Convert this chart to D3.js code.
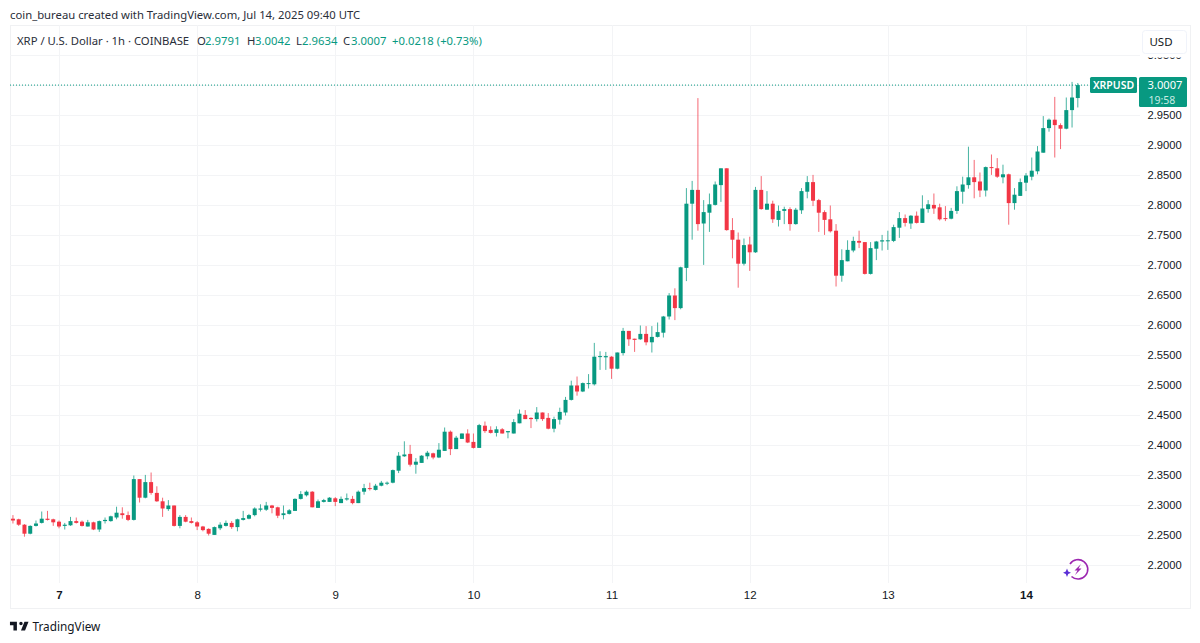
<!DOCTYPE html>
<html>
<head>
<meta charset="utf-8">
<script src="https://cdn.jsdelivr.net/npm/d3@7"></script>
<style>
  html, body { margin: 0; padding: 0; background: #fff; }
  svg { display: block; font-family: 'Noto Sans', Tahoma, sans-serif; }
  .grid line { stroke: #f3f4f6; stroke-width: 1; shape-rendering: crispEdges; }
  .price-axis text { font-size: 11.2px; fill: #131722; }
  .time-axis text { font-size: 11.5px; fill: #131722; }
  .legend text { font-size: 11.3px; }
</style>
</head>
<body>
<svg id="chart" width="1200" height="643"></svg>
<script>
// hourly XRP/USD candles, first one is Jul 6 2025 16:00 UTC
const startTime = Date.UTC(2025, 6, 6, 16);

const opens = [
  2.278,2.277,2.268,2.253,2.266,2.271,2.278,2.277,2.273,2.266,
  2.267,2.274,2.273,2.265,2.272,2.260,2.274,2.274,2.280,2.287,
  2.284,2.276,2.344,2.313,2.339,2.321,2.307,2.294,2.300,2.266,
  2.281,2.274,2.272,2.265,2.261,2.251,2.262,2.266,2.271,2.264,
  2.276,2.278,2.284,2.293,2.293,2.300,2.297,2.284,2.286,2.291,
  2.311,2.317,2.323,2.296,2.306,2.306,2.312,2.304,2.310,2.311,
  2.304,2.323,2.329,2.326,2.333,2.337,2.338,2.358,2.382,2.386,
  2.368,2.371,2.382,2.387,2.380,2.391,2.423,2.394,2.411,2.420,
  2.406,2.396,2.433,2.426,2.421,2.427,2.422,2.420,2.437,2.451,
  2.446,2.444,2.455,2.446,2.428,2.443,2.455,2.476,2.500,2.490,
  2.503,2.502,2.548,2.547,2.548,2.528,2.554,2.591,2.578,2.577,
  2.586,2.572,2.581,2.588,2.615,2.650,2.629,2.696,2.803,2.826,
  2.770,2.788,2.801,2.834,2.862,2.759,2.743,2.703,2.735,2.722,
  2.826,2.793,2.803,2.776,2.791,2.794,2.769,2.792,2.823,2.839,
  2.809,2.789,2.777,2.758,2.683,2.707,2.725,2.741,2.739,2.686,
  2.728,2.740,2.741,2.741,2.763,2.779,2.770,2.783,2.771,2.794,
  2.801,2.797,2.779,2.778,2.791,2.823,2.834,2.847,2.840,2.825,
  2.864,2.862,2.847,2.852,2.804,2.816,2.838,2.848,2.857,2.888,
  2.929,2.943,2.934,2.928,2.959,2.9791,
];

const highs = [
  2.284,2.278,2.269,2.267,2.275,2.290,2.291,2.278,2.275,2.271,
  2.281,2.280,2.275,2.276,2.273,2.275,2.280,2.283,2.298,2.297,
  2.290,2.350,2.344,2.351,2.355,2.332,2.313,2.309,2.300,2.284,
  2.284,2.280,2.274,2.266,2.262,2.265,2.272,2.275,2.274,2.278,
  2.291,2.286,2.297,2.302,2.306,2.301,2.298,2.300,2.294,2.312,
  2.324,2.325,2.324,2.310,2.311,2.314,2.314,2.315,2.320,2.316,
  2.325,2.336,2.338,2.336,2.341,2.340,2.360,2.389,2.407,2.401,
  2.379,2.384,2.391,2.388,2.404,2.430,2.425,2.416,2.420,2.427,
  2.420,2.436,2.440,2.432,2.432,2.429,2.424,2.444,2.460,2.459,
  2.447,2.464,2.455,2.454,2.448,2.463,2.481,2.508,2.515,2.505,
  2.519,2.571,2.557,2.556,2.549,2.555,2.596,2.591,2.578,2.600,
  2.599,2.599,2.605,2.616,2.654,2.662,2.698,2.829,2.841,2.979,
  2.809,2.820,2.840,2.862,2.862,2.779,2.755,2.745,2.748,2.831,
  2.849,2.824,2.808,2.800,2.798,2.797,2.796,2.829,2.849,2.851,
  2.811,2.792,2.800,2.769,2.727,2.742,2.748,2.758,2.739,2.739,
  2.741,2.751,2.758,2.768,2.789,2.785,2.784,2.790,2.817,2.809,
  2.820,2.803,2.799,2.796,2.832,2.848,2.898,2.876,2.855,2.865,
  2.885,2.879,2.868,2.853,2.829,2.845,2.854,2.880,2.899,2.949,
  2.945,2.981,2.937,2.980,3.006,3.0042,
];

const lows = [
  2.270,2.266,2.248,2.252,2.265,2.270,2.275,2.266,2.262,2.260,
  2.266,2.270,2.265,2.265,2.259,2.256,2.270,2.273,2.277,2.278,
  2.274,2.275,2.305,2.312,2.318,2.306,2.281,2.291,2.265,2.262,
  2.272,2.270,2.259,2.257,2.250,2.251,2.259,2.265,2.261,2.257,
  2.275,2.277,2.282,2.290,2.291,2.287,2.279,2.277,2.285,2.291,
  2.310,2.315,2.297,2.296,2.305,2.306,2.299,2.304,2.308,2.302,
  2.304,2.318,2.325,2.325,2.332,2.334,2.337,2.354,2.381,2.365,
  2.353,2.371,2.377,2.377,2.379,2.391,2.384,2.394,2.411,2.404,
  2.395,2.396,2.421,2.420,2.415,2.420,2.412,2.420,2.437,2.444,
  2.429,2.440,2.441,2.427,2.422,2.435,2.450,2.475,2.483,2.489,
  2.495,2.500,2.526,2.526,2.511,2.527,2.550,2.566,2.556,2.576,
  2.567,2.555,2.580,2.580,2.610,2.609,2.627,2.674,2.743,2.758,
  2.701,2.756,2.800,2.806,2.758,2.712,2.663,2.700,2.691,2.721,
  2.793,2.793,2.771,2.765,2.769,2.758,2.768,2.786,2.812,2.799,
  2.756,2.751,2.755,2.665,2.673,2.707,2.722,2.729,2.685,2.685,
  2.709,2.725,2.726,2.739,2.746,2.765,2.761,2.770,2.771,2.788,
  2.786,2.775,2.774,2.777,2.786,2.803,2.828,2.812,2.814,2.815,
  2.851,2.846,2.837,2.768,2.793,2.816,2.824,2.842,2.852,2.888,
  2.923,2.880,2.894,2.927,2.930,2.9634,
];

const closes = [
  2.275,2.268,2.253,2.266,2.270,2.278,2.276,2.272,2.265,2.268,
  2.274,2.271,2.266,2.272,2.260,2.274,2.276,2.282,2.288,2.284,
  2.276,2.344,2.313,2.339,2.321,2.307,2.295,2.300,2.266,2.281,
  2.273,2.271,2.265,2.259,2.253,2.264,2.268,2.271,2.264,2.277,
  2.279,2.284,2.295,2.295,2.300,2.296,2.283,2.287,2.292,2.311,
  2.319,2.323,2.297,2.307,2.309,2.313,2.306,2.311,2.312,2.304,
  2.323,2.329,2.328,2.333,2.338,2.338,2.359,2.383,2.385,2.368,
  2.373,2.383,2.388,2.380,2.393,2.423,2.394,2.413,2.420,2.405,
  2.396,2.434,2.424,2.421,2.427,2.420,2.424,2.439,2.453,2.444,
  2.444,2.455,2.444,2.428,2.444,2.456,2.476,2.500,2.490,2.504,
  2.504,2.548,2.549,2.549,2.528,2.555,2.591,2.577,2.576,2.586,
  2.572,2.581,2.589,2.615,2.650,2.629,2.697,2.803,2.826,2.769,
  2.789,2.802,2.835,2.862,2.759,2.743,2.703,2.734,2.722,2.826,
  2.794,2.803,2.777,2.791,2.794,2.769,2.793,2.824,2.839,2.808,
  2.788,2.776,2.757,2.683,2.709,2.726,2.741,2.738,2.686,2.729,
  2.740,2.742,2.742,2.764,2.779,2.771,2.783,2.771,2.795,2.802,
  2.795,2.777,2.778,2.791,2.824,2.835,2.847,2.839,2.825,2.864,
  2.863,2.848,2.852,2.804,2.818,2.839,2.850,2.858,2.890,2.929,
  2.943,2.934,2.928,2.959,2.980,3.0007,
];

const priceTicks = [2.2,2.25,2.3,2.35,2.4,2.45,2.5,2.55,2.6,2.65,2.7,2.75,2.8,2.85,2.9,2.95,3.05];
const gridPrices = [2.2,2.25,2.3,2.35,2.4,2.45,2.5,2.55,2.6,2.65,2.7,2.75,2.8,2.85,2.9,2.95,3.0,3.05];
const dayTicks = [7, 8, 9, 10, 11, 12, 13, 14];
const boldDays = [7, 14]; // Mondays

const legendParts = [
  { text: 'XRP / U.S. Dollar · 1h · COINBASE', at: 17, up: false },
  { text: 'O', at: 197, up: false }, { text: '2.9791', at: 205, up: true },
  { text: 'H', at: 247, up: false }, { text: '3.0042', at: 255, up: true },
  { text: 'L', at: 296, up: false }, { text: '2.9634', at: 302, up: true },
  { text: 'C', at: 343, up: false }, { text: '3.0007', at: 351, up: true },
  { text: '+0.0218 (+0.73%)', at: 392, up: true },
];

const UP = '#089981';
const DOWN = '#f23645';
const frame = { left: 10, right: 1190, top: 25, bottom: 608, paneRight: 1140, axisTop: 583 };

const candles = opens.map((open, i) => ({
  time: new Date(startTime + i * 3600000),
  open, high: highs[i], low: lows[i], close: closes[i],
}));

const x = d3.scaleUtc()
  .domain([new Date(Date.UTC(2025, 6, 7)), new Date(Date.UTC(2025, 6, 14))])
  .range([59, 1026]);
const y = d3.scaleLinear().domain([2.2, 2.95]).range([565.5, 115.5]);

const svg = d3.select('#chart');

drawHeader();
drawGrid();
drawCandles();
drawAxes();
drawLastPrice();
drawLegend();
drawBadge();
drawLogo();

function drawHeader() {
  svg.append('text')
    .attr('x', 10).attr('y', 19)
    .style('font-size', '11.3px').attr('fill', '#2a2e39')
    .text('coin_bureau created with TradingView.com, Jul 14, 2025 09:40 UTC');
  svg.append('rect')
    .attr('x', frame.left + 0.5).attr('y', frame.top + 0.5)
    .attr('width', frame.right - frame.left).attr('height', frame.bottom - frame.top)
    .attr('fill', 'none').attr('stroke', '#f0f1f3');
}

function drawGrid() {
  const grid = svg.append('g').attr('class', 'grid');
  grid.selectAll('line.h')
    .data(gridPrices)
    .enter()
    .append('line')
    .attr('class', 'h')
    .attr('x1', frame.left).attr('x2', frame.paneRight)
    .attr('y1', d => y(d)).attr('y2', d => y(d));
  grid.selectAll('line.v')
    .data(dayTicks)
    .enter()
    .append('line')
    .attr('class', 'v')
    .attr('x1', d => Math.round(x(dayDate(d)))).attr('x2', d => Math.round(x(dayDate(d))))
    .attr('y1', frame.top).attr('y2', frame.axisTop);
}

function drawCandles() {
  const candle = svg.append('g').attr('class', 'candles')
    .selectAll('g')
    .data(candles)
    .enter()
    .append('g')
    .attr('fill', d => d.close >= d.open ? UP : DOWN)
    .attr('stroke', d => d.close >= d.open ? UP : DOWN);
  candle.append('line')
    .attr('x1', d => x(d.time)).attr('x2', d => x(d.time))
    .attr('y1', d => y(d.high)).attr('y2', d => y(d.low))
    .attr('stroke-width', 1)
    .attr('stroke-opacity', 0.75);
  candle.append('rect')
    .attr('x', d => x(d.time) - 2)
    .attr('width', 4)
    .attr('y', d => y(Math.max(d.open, d.close)))
    .attr('height', d => Math.max(1, Math.abs(y(d.open) - y(d.close))))
    .attr('stroke', 'none');
}

function drawAxes() {
  const priceAxis = d3.axisRight(y)
    .tickValues(priceTicks)
    .tickFormat(d3.format('.4f'))
    .tickSize(0)
    .tickPadding(0);
  const priceG = svg.append('g')
    .attr('class', 'price-axis')
    .attr('transform', 'translate(1147.5,-0.5)')
    .call(priceAxis);
  priceG.select('.domain').remove();

  const timeAxis = d3.axisBottom(x)
    .tickValues(dayTicks.map(dayDate))
    .tickFormat(d3.utcFormat('%-d'))
    .tickSize(0)
    .tickPadding(0);
  const timeG = svg.append('g')
    .attr('class', 'time-axis')
    .attr('transform', 'translate(0,591)')
    .call(timeAxis);
  timeG.select('.domain').remove();
  timeG.selectAll('text')
    .style('font-weight', d => boldDays.includes(d.getUTCDate()) ? 700 : 400);

  // the top tick runs under the currency button
  svg.append('rect')
    .attr('x', 1141).attr('y', 26).attr('width', 48).attr('height', 31.5)
    .attr('fill', '#fff');
  svg.append('rect')
    .attr('x', 1142.5).attr('y', 30.5).attr('width', 44).attr('height', 23).attr('rx', 3)
    .attr('fill', '#fff').attr('stroke', '#f0f3fa');
  svg.append('text')
    .attr('x', 1161).attr('y', 46)
    .attr('text-anchor', 'middle')
    .style('font-size', '11.5px').attr('fill', '#131722')
    .text('USD');
}

function drawLastPrice() {
  const last = candles[candles.length - 1];
  const ly = y(last.close);
  svg.append('line')
    .attr('x1', frame.left).attr('x2', 1090)
    .attr('y1', ly).attr('y2', ly)
    .attr('stroke', UP).attr('stroke-dasharray', '1 2');
  svg.append('rect')
    .attr('x', 1090).attr('y', ly - 8).attr('width', 47).attr('height', 16).attr('rx', 1.5)
    .attr('fill', UP);
  svg.append('text')
    .attr('x', 1113.5).attr('y', ly + 4)
    .attr('text-anchor', 'middle')
    .style('font-size', '10.5px').style('font-weight', 600).attr('fill', '#fff')
    .text('XRPUSD');
  svg.append('rect')
    .attr('x', 1139).attr('y', ly - 8).attr('width', 48).attr('height', 30).attr('rx', 1.5)
    .attr('fill', UP);
  svg.append('text')
    .attr('x', 1147.5).attr('y', ly + 3.6)
    .style('font-size', '11.2px').attr('fill', '#fff')
    .text(d3.format('.4f')(last.close));
  svg.append('text')
    .attr('x', 1148.5).attr('y', ly + 18.6)
    .style('font-size', '10.5px').attr('fill', '#c9ebe4')
    .text('19:58');
}

function drawLegend() {
  svg.append('g').attr('class', 'legend')
    .selectAll('text')
    .data(legendParts)
    .enter()
    .append('text')
    .attr('x', d => d.at)
    .attr('y', 45)
    .attr('fill', d => d.up ? UP : '#2a2e39')
    .text(d => d.text);
}

function drawBadge() {
  const badge = svg.append('g').attr('transform', 'translate(1078,569.5)');
  badge.append('path')
    .attr('d', 'M-8,-5.5 A9.7,9.7 0 1 1 -6.5,7')
    .attr('fill', 'none').attr('stroke', '#9c27b0').attr('stroke-width', 1.6);
  badge.append('path')
    .attr('d', 'M3,-5.5 L-3.5,1 L-0.5,1 L-3,5.5 L3.5,-1 L0.5,-1 Z')
    .attr('fill', '#9c27b0');
  badge.append('path')
    .attr('d', 'M-11,-1 L-9.8,2 L-7,3.2 L-9.8,4.4 L-11,7.4 L-12.2,4.4 L-15,3.2 L-12.2,2 Z')
    .attr('fill', '#5b2fd6');
}

function drawLogo() {
  svg.append('path')
    .attr('transform', 'translate(8.8,618.2) scale(0.58)')
    .attr('d', 'M14 6H2v6h6v9h6V6zm14 15h-7l6-15h7l-6 15zm-7-9a3 3 0 1 0 0-6 3 3 0 0 0 0 6z')
    .attr('fill', '#131722');
  svg.append('text')
    .attr('x', 32.5).attr('y', 630.7)
    .style('font-size', '11.8px').attr('fill', '#131722')
    .text('TradingView');
}

function dayDate(day) {
  return new Date(Date.UTC(2025, 6, day));
}
</script>
</body>
</html>
